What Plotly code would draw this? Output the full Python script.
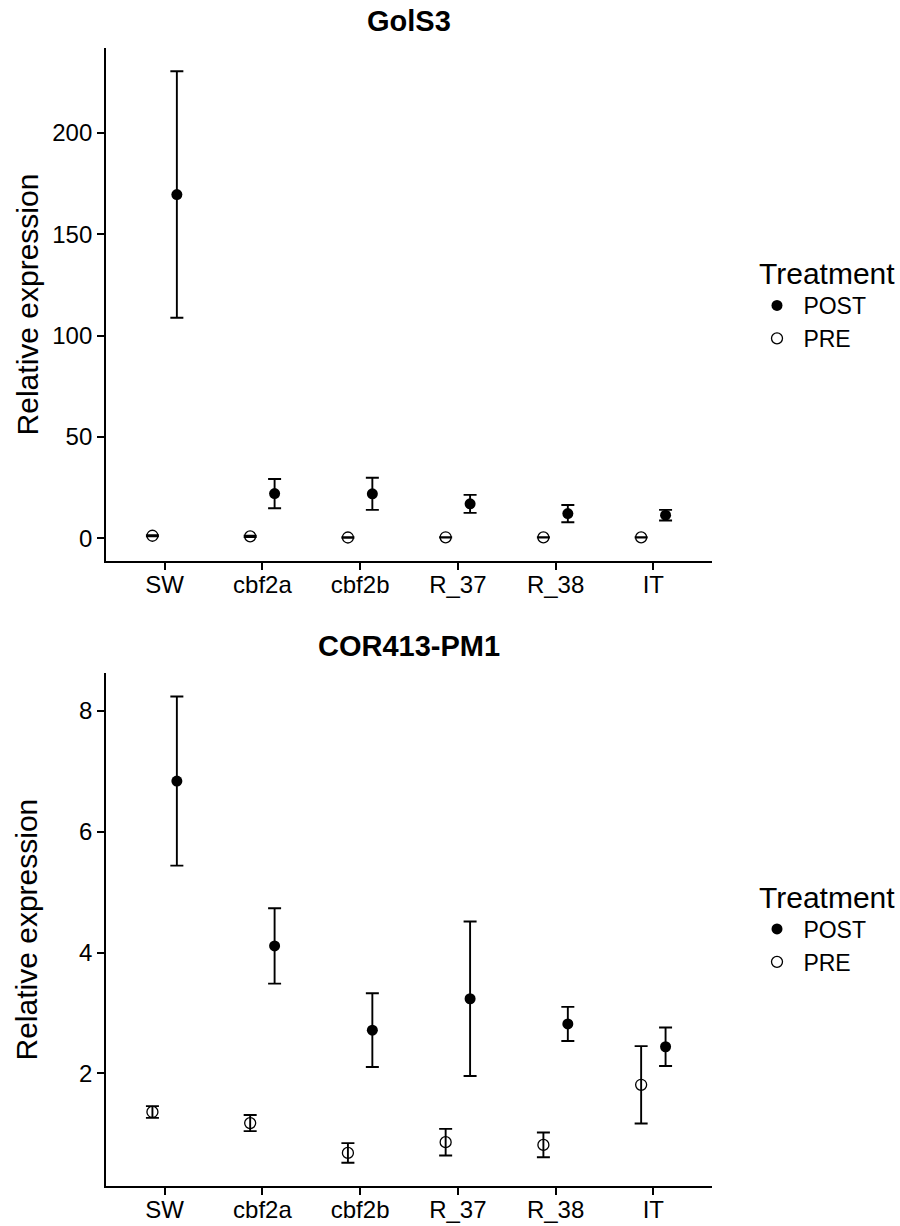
import plotly.graph_objects as go

# ---------------- data ----------------
genotypes = ["SW", "cbf2a", "cbf2b", "R_37", "R_38", "IT"]

# GolS3
gols3_pre_mean = [1.2, 0.9, 0.35, 0.45, 0.4, 0.4]
gols3_pre_se = [0.3, 0.3, 0.1, 0.1, 0.1, 0.1]
gols3_post_mean = [169.6, 22.0, 21.9, 16.95, 12.15, 11.35]
gols3_post_se = [60.8, 7.25, 7.9, 4.45, 4.25, 2.65]

# COR413-PM1
cor_pre_mean = [1.36, 1.176, 0.682, 0.86, 0.815, 1.81]
cor_pre_se = [0.097, 0.133, 0.162, 0.22, 0.205, 0.64]
cor_post_mean = [6.84, 4.11, 2.715, 3.235, 2.818, 2.44]
cor_post_se = [1.40, 0.625, 0.61, 1.28, 0.282, 0.318]

gols3_ticks = [0, 50, 100, 150, 200]
cor_ticks = [2, 4, 6, 8]

FONT = "Liberation Sans, Arial, sans-serif"
DODGE = 0.125

# ---------------- figure ----------------
fig = go.Figure()
xpos = list(range(len(genotypes)))


def add_panel(xa, ya, legend, pre_m, pre_se, post_m, post_se):
    fig.add_trace(go.Scatter(
        x=[x + DODGE for x in xpos], y=post_m, mode="markers",
        name="\u00a0POST",
        xaxis=xa, yaxis=ya, legend=legend, legendgroup=legend + "post",
        marker=dict(symbol="circle", size=11, color="black",
                    line=dict(width=0)),
        error_y=dict(type="data", array=post_se, visible=True,
                     color="black", thickness=1.9, width=6.5),
        hoverinfo="skip"))
    fig.add_trace(go.Scatter(
        x=[x - DODGE for x in xpos], y=pre_m, mode="markers",
        name="\u00a0PRE",
        xaxis=xa, yaxis=ya, legend=legend, legendgroup=legend + "pre",
        marker=dict(symbol="circle-open", size=11, color="black",
                    line=dict(width=1.3, color="black")),
        error_y=dict(type="data", array=pre_se, visible=True,
                     color="black", thickness=1.9, width=6.5),
        hoverinfo="skip"))


add_panel("x", "y", "legend", gols3_pre_mean, gols3_pre_se,
          gols3_post_mean, gols3_post_se)
add_panel("x2", "y2", "legend2", cor_pre_mean, cor_pre_se,
          cor_post_mean, cor_post_se)


def yrange(pm, ps, qm, qs):
    lo = min([m - s for m, s in zip(pm, ps)] + [m - s for m, s in zip(qm, qs)])
    hi = max([m + s for m, s in zip(pm, ps)] + [m + s for m, s in zip(qm, qs)])
    r = hi - lo
    return [lo - 0.05 * r, hi + 0.05 * r]


axis_common = dict(showline=True, linecolor="black", linewidth=1.8,
                   ticks="outside", ticklen=7, tickwidth=1.8,
                   tickcolor="black", showgrid=False, zeroline=False,
                   automargin=False,
                   tickfont=dict(size=24, color="black", family=FONT))

xcommon = dict(axis_common, tickmode="array", tickvals=xpos,
               ticktext=genotypes, range=[-0.6, 5.6],
               ticklabelstandoff=-6)

TOP = [0.5492, 1.0]
BOT = [0.0, 0.4506]

legend_common = dict(xref="container", yref="container",
                     x=757 / 900, xanchor="left", yanchor="middle",
                     title=dict(text="Treatment",
                                font=dict(size=30, family=FONT,
                                          color="black")),
                     font=dict(size=23, family=FONT, color="black"),
                     traceorder="grouped", tracegroupgap=0,
                     bgcolor="rgba(0,0,0,0)")

fig.update_layout(
    width=900, height=1226,
    margin=dict(l=106, r=188, t=48, b=40, autoexpand=False),
    paper_bgcolor="white", plot_bgcolor="white",
    font=dict(family=FONT, color="black"),
    xaxis=dict(xcommon, domain=[0, 1], anchor="y"),
    yaxis=dict(axis_common, domain=TOP, anchor="x",
               range=yrange(gols3_pre_mean, gols3_pre_se,
                            gols3_post_mean, gols3_post_se),
               tickmode="array", tickvals=gols3_ticks,
               title=dict(text="Relative expression",
                          font=dict(size=30, family=FONT, color="black"),
                          standoff=5)),
    xaxis2=dict(xcommon, domain=[0, 1], anchor="y2"),
    yaxis2=dict(axis_common, domain=BOT, anchor="x2",
                range=yrange(cor_pre_mean, cor_pre_se,
                             cor_post_mean, cor_post_se),
                tickmode="array", tickvals=cor_ticks,
                title=dict(text="Relative expression",
                           font=dict(size=30, family=FONT, color="black"),
                           standoff=32)),
    legend=dict(legend_common, y=1 - 302.5 / 1226),
    legend2=dict(legend_common, y=1 - 926 / 1226),
    annotations=[
        dict(text="<b>GolS3</b>", xref="x domain", yref="y domain",
             x=0.5, y=1, xanchor="center", yanchor="middle", yshift=27,
             showarrow=False, font=dict(size=29, family=FONT, color="black")),
        dict(text="<b>COR413-PM1</b>", xref="x2 domain", yref="y2 domain",
             x=0.5, y=1, xanchor="center", yanchor="middle", yshift=27,
             showarrow=False, font=dict(size=29, family=FONT, color="black")),
    ],
)

fig.write_html("out.html")
